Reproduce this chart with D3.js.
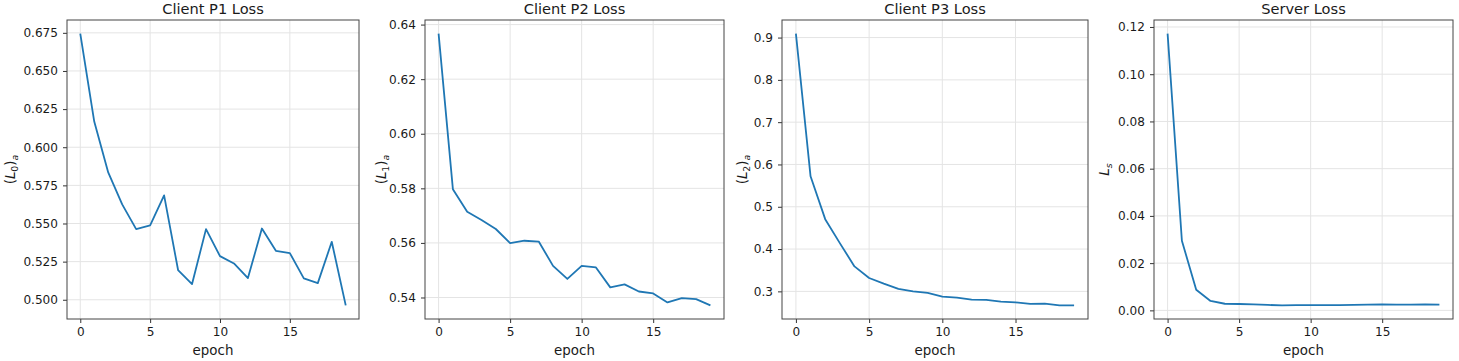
<!DOCTYPE html>
<html>
<head>
<meta charset="utf-8">
<script src="https://cdn.jsdelivr.net/npm/d3@7"></script>
<style>
  body { margin: 0; background: #fff; }
  svg { font-family: "DejaVu Sans", sans-serif; }
</style>
</head>
<body>
<svg></svg>
<script>
const width = 1459;
const height = 361;
let svg = d3.select("svg").attr("width", width).attr("height", height);

// data (epochs 0..19)
const epochs = d3.range(20);
const clientP1 = [0.6745, 0.6168, 0.5835, 0.5625, 0.5463, 0.5487, 0.5684, 0.5195, 0.5103, 0.5463,
                  0.5286, 0.5238, 0.5142, 0.5467, 0.5321, 0.5306, 0.5140, 0.5109, 0.5380, 0.4963];
const clientP2 = [0.6367, 0.5797, 0.5714, 0.5684, 0.5651, 0.5599, 0.5608, 0.5605, 0.5516, 0.5468,
                  0.5516, 0.5510, 0.5437, 0.5448, 0.5422, 0.5415, 0.5382, 0.5398, 0.5394, 0.5371];
const clientP3 = [0.9094, 0.5720, 0.4707, 0.4141, 0.3590, 0.3316, 0.3182, 0.3057, 0.3000, 0.2962,
                  0.2875, 0.2851, 0.2804, 0.2797, 0.2757, 0.2741, 0.2703, 0.2710, 0.2670, 0.2668];
const server = [0.1172, 0.0295, 0.0087, 0.0040, 0.0028, 0.0027, 0.0025, 0.0023, 0.0021, 0.0022,
                0.0022, 0.0022, 0.0022, 0.0023, 0.0024, 0.0025, 0.0024, 0.0024, 0.0025, 0.0024];

const titles = ["Client P1 Loss", "Client P2 Loss", "Client P3 Loss", "Server Loss"];
const xTicks = [0, 5, 10, 15];
const yTicksP1 = [0.500, 0.525, 0.550, 0.575, 0.600, 0.625, 0.650, 0.675];
const yTicksP2 = [0.54, 0.56, 0.58, 0.60, 0.62, 0.64];
const yTicksP3 = [0.3, 0.4, 0.5, 0.6, 0.7, 0.8, 0.9];
const yTicksS = [0.00, 0.02, 0.04, 0.06, 0.08, 0.10, 0.12];

// panel boxes (layout)
const panels = [
    { title: titles[0], values: clientP1, yTicks: yTicksP1, fmt: ".3f", left: 67, right: 359, labelX: 11, sub: "0" },
    { title: titles[1], values: clientP2, yTicks: yTicksP2, fmt: ".2f", left: 425, right: 724, labelX: 382, sub: "1" },
    { title: titles[2], values: clientP3, yTicks: yTicksP3, fmt: ".1f", left: 782, right: 1088, labelX: 743, sub: "2" },
    { title: titles[3], values: server, yTicks: yTicksS, fmt: ".2f", left: 1154, right: 1453, labelX: 1105, sub: null }
];
const plotTop = 20, plotBottom = 319;

function drawPanel(p) {
    const g = svg.append("g");
    const lo = d3.min(p.values), hi = d3.max(p.values);
    const pad = (hi - lo) * 0.05;
    const x = d3.scaleLinear().domain([-0.95, 19.95]).range([p.left, p.right]);
    const y = d3.scaleLinear().domain([lo - pad, hi + pad]).range([plotBottom, plotTop]);

    // grid
    g.selectAll(".gx").data(xTicks).enter().append("line")
        .attr("x1", d => x(d)).attr("x2", d => x(d)).attr("y1", plotTop).attr("y2", plotBottom)
        .attr("stroke", "#e4e4e4").attr("stroke-width", 1);
    g.selectAll(".gy").data(p.yTicks).enter().append("line")
        .attr("x1", p.left).attr("x2", p.right).attr("y1", d => y(d)).attr("y2", d => y(d))
        .attr("stroke", "#e4e4e4").attr("stroke-width", 1);

    const line = d3.line().x((d, i) => x(epochs[i])).y(d => y(d));
    g.append("path").attr("d", line(p.values)).attr("fill", "none")
        .attr("stroke", "#1f77b4").attr("stroke-width", 1.8).attr("stroke-linejoin", "round");

    const xAxis = g.append("g").attr("transform", `translate(0,${plotBottom})`)
        .call(d3.axisBottom(x).tickValues(xTicks).tickFormat(d3.format("d")).tickSize(4).tickPadding(4));
    const yAxis = g.append("g").attr("transform", `translate(${p.left},0)`)
        .call(d3.axisLeft(y).tickValues(p.yTicks).tickFormat(d3.format(p.fmt)).tickSize(4).tickPadding(5));
    [xAxis, yAxis].forEach(a => {
        a.select(".domain").remove();
        a.selectAll("line").attr("stroke", "#333");
        a.selectAll("text").attr("font-size", "12.1px").attr("fill", "#1a1a1a")
            .attr("font-family", "DejaVu Sans, sans-serif");
    });

    g.append("rect").attr("x", p.left).attr("y", plotTop)
        .attr("width", p.right - p.left).attr("height", plotBottom - plotTop)
        .attr("fill", "none").attr("stroke", "#444").attr("stroke-width", 1);

    g.append("text").attr("x", (p.left + p.right) / 2).attr("y", 14)
        .attr("text-anchor", "middle").attr("font-size", "14.6px").attr("fill", "#1a1a1a")
        .text(p.title);
    g.append("text").attr("x", (p.left + p.right) / 2).attr("y", 355)
        .attr("text-anchor", "middle").attr("font-size", "13.4px").attr("fill", "#1a1a1a")
        .text("epoch");

    // y label with math-like subscripts
    const yl = g.append("text")
        .attr("transform", `translate(${p.labelX + 4},${(plotTop + plotBottom) / 2}) rotate(-90)`)
        .attr("text-anchor", "middle").attr("font-size", "13.4px").attr("fill", "#1a1a1a");
    if (p.sub !== null) {
        yl.append("tspan").text("(");
        yl.append("tspan").attr("font-style", "italic").text("L");
        yl.append("tspan").attr("font-size", "9.4px").attr("dy", 3).text(p.sub);
        yl.append("tspan").attr("dy", -3).text(")");
        yl.append("tspan").attr("font-size", "9.4px").attr("font-style", "italic").attr("dy", 3).text("a");
    } else {
        yl.append("tspan").attr("font-style", "italic").text("L");
        yl.append("tspan").attr("font-size", "9.4px").attr("font-style", "italic").attr("dy", 3).text("s");
    }
}

panels.forEach(drawPanel);
</script>
</body>
</html>
